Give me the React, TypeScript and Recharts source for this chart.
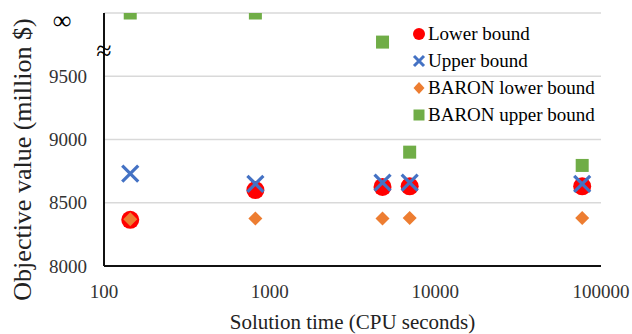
import { CartesianGrid, Scatter, ScatterChart, XAxis, YAxis } from "recharts";

const times = [144, 820, 4800, 7000, 77000];
const lowerBound = [8365, 8600, 8625, 8630, 8630];
const upperBound = [8730, 8650, 8660, 8660, 8650];
const baronLower = [8370, 8375, 8375, 8380, 8380];
// 10000 stands for "infinity" (no upper bound found)
const baronUpper = [10000, 10000, 9770, 8900, 8795];

const xTicks = [100, 1000, 10000, 100000];
const yTicks = [8000, 8500, 9000, 9500, 10000];

const FONT = '"Liberation Serif", "Times New Roman", serif';
const RED = "#FF0000";
const BLUE = "#4472C4";
const ORANGE = "#ED7D31";
const GREEN = "#70AD47";
const BORDER = { stroke: "#111", strokeWidth: 2 };

const toPoints = (vals: number[]) => times.map((t, i) => ({ t, v: vals[i] }));

const Circle = ({ cx, cy }: any) => <circle cx={cx} cy={cy} r={9} fill={RED} />;
const Cross = ({ cx, cy }: any) => (
  <path
    d={`M${cx - 8},${cy - 8}L${cx + 8},${cy + 8}M${cx - 8},${cy + 8}L${cx + 8},${cy - 8}`}
    stroke={BLUE}
    strokeWidth={3.2}
    fill="none"
  />
);
const Diamond = ({ cx, cy }: any) => (
  <path d={`M${cx},${cy - 7}L${cx + 7},${cy}L${cx},${cy + 7}L${cx - 7},${cy}Z`} fill={ORANGE} />
);
const Square = ({ cx, cy }: any) => <rect x={cx - 6.5} y={cy - 6.5} width={13} height={13} fill={GREEN} />;

const YTick = ({ x, y, payload }: any) => {
  if (payload.value === 10000) {
    return (
      <g>
        <text x={x - 25} y={y + 7} textAnchor="middle" dominantBaseline="central" fontSize={26} fill="#000" fontFamily={FONT}>
          ∞
        </text>
        <text x={x + 17} y={y + 37} textAnchor="middle" dominantBaseline="central" fontSize={28} fill="#000" fontFamily={FONT}>
          ≈
        </text>
      </g>
    );
  }
  return (
    <text x={x} y={y} textAnchor="end" dominantBaseline="central" fontSize={19} fill="#333" fontFamily={FONT}>
      {payload.value}
    </text>
  );
};

const legendItems = [
  { label: "Lower bound", marker: <circle cx={7} cy={7} r={6} fill={RED} /> },
  {
    label: "Upper bound",
    marker: <path d="M2,2L12,12M2,12L12,2" stroke={BLUE} strokeWidth={3} />,
  },
  { label: "BARON lower bound", marker: <path d="M7,1L12.5,7L7,13L1.5,7Z" fill={ORANGE} /> },
  { label: "BARON upper bound", marker: <rect x={1.5} y={1.5} width={11} height={11} fill={GREEN} /> },
];

const LegendBox = () => (
  <div style={{ position: "absolute", top: 20, left: 412, fontFamily: FONT, fontSize: 19, color: "#000" }}>
    {legendItems.map((it) => (
      <div key={it.label} style={{ display: "flex", alignItems: "center", height: 27, lineHeight: "27px", whiteSpace: "nowrap" }}>
        <svg width={14} height={14} style={{ marginRight: 2 }}>
          {it.marker}
        </svg>
        <span>{it.label}</span>
      </div>
    ))}
  </div>
);

export default function App() {
  return (
    <div style={{ position: "fixed", left: 0, top: 0, width: 632, height: 334, background: "#fff" }}>
      <ScatterChart width={632} height={334} margin={{ top: 13, right: 31, bottom: 0, left: 0 }}>
        <CartesianGrid vertical={false} stroke="#d9d9d9" strokeWidth={1.5} />
        <XAxis
          dataKey="t"
          type="number"
          scale="log"
          domain={[100, 100000]}
          ticks={xTicks}
          allowDataOverflow
          axisLine={BORDER}
          tickLine={false}
          tickSize={0}
          tickMargin={19}
          height={68}
          tick={{ fontSize: 19, fill: "#333", fontFamily: FONT }}
          label={{
            value: "Solution time (CPU seconds)",
            position: "insideBottom",
            offset: 5,
            style: { fontSize: 21, fill: "#222", fontFamily: FONT },
          }}
        />
        <XAxis xAxisId="top" orientation="top" type="number" height={0} tick={false} tickLine={false} axisLine={BORDER} />
        <YAxis
          dataKey="v"
          type="number"
          domain={[8000, 10000]}
          ticks={yTicks}
          allowDataOverflow
          axisLine={BORDER}
          tickLine={false}
          tickSize={0}
          tickMargin={17}
          width={104}
          tick={<YTick />}
          label={{
            value: "Objective value (million $)",
            angle: -90,
            position: "insideLeft",
            offset: 22,
            dy: 20,
            style: { fontSize: 26, fill: "#222", fontFamily: FONT, textAnchor: "middle" },
          }}
        />
        <YAxis yAxisId="right" orientation="right" type="number" width={0} tick={false} tickLine={false} axisLine={BORDER} />
        <Scatter name="Lower bound" data={toPoints(lowerBound)} shape={Circle} isAnimationActive={false} />
        <Scatter name="Upper bound" data={toPoints(upperBound)} shape={Cross} isAnimationActive={false} />
        <Scatter name="BARON lower bound" data={toPoints(baronLower)} shape={Diamond} isAnimationActive={false} />
        <Scatter name="BARON upper bound" data={toPoints(baronUpper)} shape={Square} isAnimationActive={false} />
      </ScatterChart>
      <LegendBox />
    </div>
  );
}
